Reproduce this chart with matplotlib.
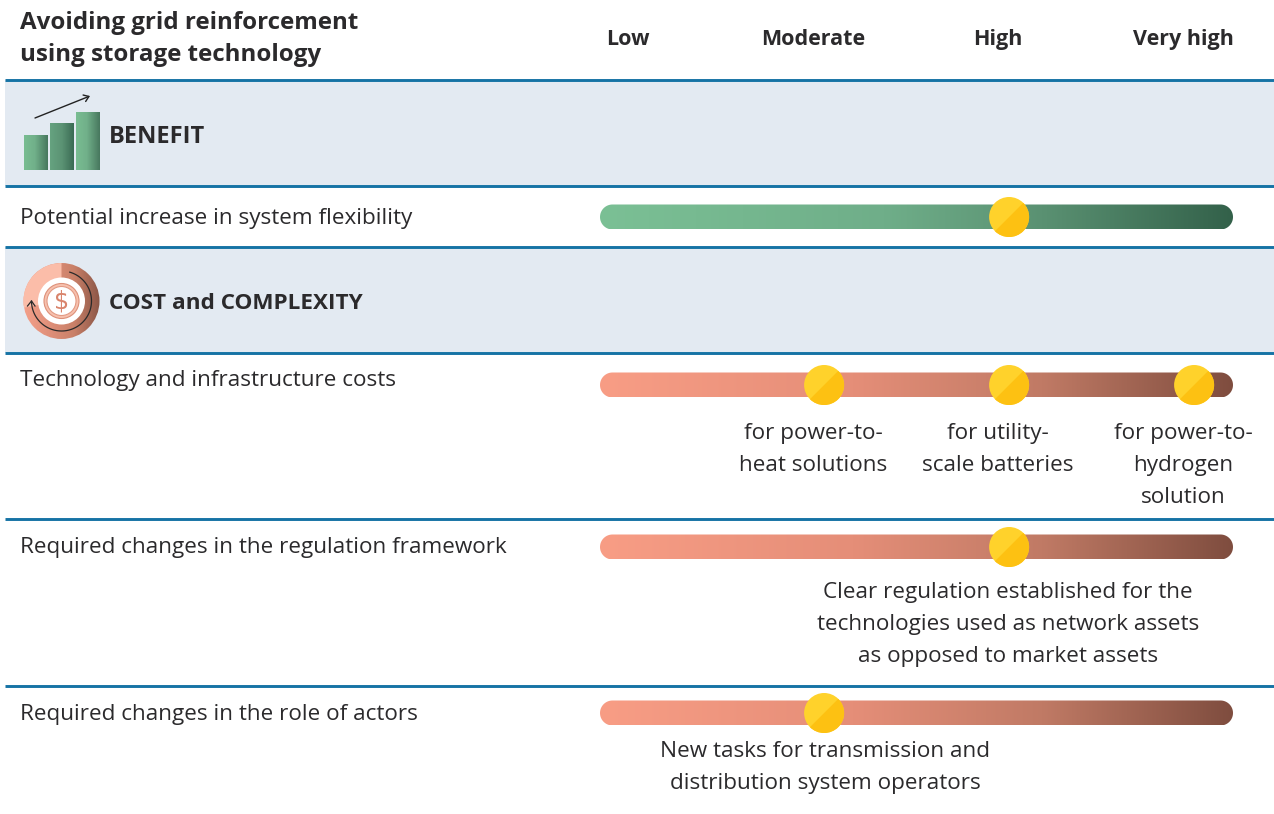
import numpy as np
from matplotlib import pyplot as plt
from matplotlib.colors import LinearSegmentedColormap
from matplotlib.patches import Circle, Polygon, Rectangle, Wedge, FancyArrowPatch

plt.rcParams["font.family"] = ["Open Sans", "DejaVu Sans"]

### data
title_lines = ["Avoiding grid reinforcement", "using storage technology"]
levels = ["Low", "Moderate", "High", "Very high"]
sections = ["BENEFIT", "COST and COMPLEXITY"]
row_names = [
    "Potential increase in system flexibility",
    "Technology and infrastructure costs",
    "Required changes in the regulation framework",
    "Required changes in the role of actors",
]
# ratings on the scale 0 = Low ... 3 = Very high
row_ratings = [[2.06], [1.06, 2.06, 3.06], [2.06], [1.06]]
cost_notes = [
    ["for power-to-", "heat solutions"],
    ["for utility-", "scale batteries"],
    ["for power-to-", "hydrogen", "solution"],
]
regulation_note = [
    "Clear regulation established for the",
    "technologies used as network assets",
    "as opposed to market assets",
]
actors_note = ["New tasks for transmission and", "distribution system operators"]

LINE = "#1573a5"
BAND = "#e3eaf2"
TEXT = "#2b2a2c"
BODY_SIZE = 16.2
LINE_STEP = 32


def level_x(v):
    # pixel position of a rating
    return 628 + 185 * v


def note(x, y, lines):
    for n, s in enumerate(lines):
        ax.text(x, y + n * LINE_STEP, s, fontsize=BODY_SIZE, color=TEXT, va="baseline", ha="center")


def pill(x0, x1, y, r):
    # outline of a bar with fully round ends
    t = np.radians(np.linspace(90, 270, 40))
    left = np.column_stack([x0 + r + r * np.cos(t), y + r * np.sin(t)])
    right = np.column_stack([x1 - r - r * np.cos(t), y - r * np.sin(t)])
    return Polygon(np.vstack([left, right]), closed=True, fc="none", ec="none")


green = LinearSegmentedColormap.from_list("g", [(0, "#7bc095"), (0.45, "#6fae89"), (0.7, "#5a9172"), (1, "#33614a")])
salmon = LinearSegmentedColormap.from_list("s", [(0, "#f89d85"), (0.4, "#e58e78"), (0.7, "#c07a65"), (1, "#7f4d3f")])
bar_green = LinearSegmentedColormap.from_list("bg", [(0, "#79bd92"), (0.45, "#71b08a"), (1, "#47775e")])
bar_mid = LinearSegmentedColormap.from_list("bm", [(0, "#66a380"), (0.5, "#5b9374"), (1, "#3a6b54")])
coin = LinearSegmentedColormap.from_list("c", ["#f4a08a", "#e0907a", "#c98068", "#8a5546"])
ramp = np.linspace(0, 1, 256).reshape(1, -1)

fig = plt.figure(figsize=(12.74, 8.14), dpi=100)
ax = fig.add_axes([0, 0, 1, 1])
ax.set_xlim(0, 1274)
ax.set_ylim(814, 0)
ax.axis("off")

# bands and rules
for y0, y1 in [(80, 186), (247, 353)]:
    ax.add_patch(Rectangle((5, y0), 1269, y1 - y0, fc=BAND, ec="none", zorder=0))
for y in [80, 186, 247, 353, 519, 686]:
    ax.plot([5, 1274], [y, y], color=LINE, lw=2.1, solid_capstyle="butt", zorder=1)

# header
for y, s in zip([29, 61], title_lines):
    ax.text(20, y, s, fontsize=17.4, fontweight="bold", color=TEXT, va="baseline", ha="left")
for i, s in enumerate(levels):
    ax.text(level_x(i), 45, s, fontsize=15.5, fontweight="bold", color=TEXT, va="baseline", ha="center")

# section titles
ax.text(109, 143, sections[0], fontsize=17, fontweight="bold", color=TEXT, va="baseline")
ax.text(109, 309, sections[1], fontsize=16.2, fontweight="bold", color=TEXT, va="baseline")

# benefit icon
for x, top, cm in [(24, 135, bar_green), (50, 123, bar_mid), (76, 112, bar_green)]:
    ax.imshow(ramp, extent=[x, x + 24, 170, top], cmap=cm, aspect="auto", interpolation="nearest", zorder=2)
ax.add_patch(FancyArrowPatch((35, 118), (90, 96), arrowstyle="->,head_length=3.5,head_width=2.5", lw=1.0,
                             color="#222222", shrinkA=0, shrinkB=0, zorder=3))

# cost icon
cx, cy = 61.5, 301
icon = ax.imshow(ramp, extent=[23, 100, 339, 263], cmap=coin, aspect="auto", interpolation="nearest", zorder=2)
icon.set_clip_path(Circle((cx, cy), 38, transform=ax.transData))
ax.add_patch(Wedge((cx, cy), 38, 170, 270, fc="#fbbda9", ec="none", zorder=3))
ax.add_patch(Circle((cx, cy), 23.5, fc="white", ec="none", zorder=4))
ax.add_patch(Circle((cx, cy), 17.5, fc="#f7c1ae", ec="#dd9079", lw=0.8, zorder=5))
ax.add_patch(Circle((cx, cy), 14.5, fc="white", ec="#e29a84", lw=0.8, zorder=5))
ax.text(cx, cy, "$", fontsize=17, color="#d9846c", ha="center", va="center", family="DejaVu Sans", zorder=6)
a = np.radians(np.linspace(-74, 180, 80))
ax.plot(cx + 30 * np.cos(a), cy + 30 * np.sin(a), color="#2a2a2a", lw=0.9, zorder=6)
ax.plot([27.5, 31.5, 35], [306, 301, 306], color="#2a2a2a", lw=0.9, zorder=6)

# rows
row_y = [217, 385, 547, 713]
label_y = [224, 386, 553, 720]
row_cmaps = [green, salmon, salmon, salmon]
for name, ratings, y, ly, cm in zip(row_names, row_ratings, row_y, label_y, row_cmaps):
    ax.text(20, ly, name, fontsize=BODY_SIZE, color=TEXT, va="baseline", ha="left")
    im = ax.imshow(ramp, extent=[600, 1233, y + 12.5, y - 12.5], cmap=cm, aspect="auto", zorder=2)
    clip = pill(600, 1233, y, 12.5)
    ax.add_patch(clip)
    im.set_clip_path(clip)
    for r in ratings:
        mx = level_x(r)
        ax.add_patch(Circle((mx, y), 20, fc="#ffd22b", ec="none", zorder=5))
        ax.add_patch(Wedge((mx, y), 20, -45, 135, fc="#fdc112", ec="none", zorder=6))

# notes
for i, lines in enumerate(cost_notes):
    note(level_x(i + 1), 439, lines)
note(1008, 598, regulation_note)
note(825, 757, actors_note)

ax.set_xlim(0, 1274)
ax.set_ylim(814, 0)
plt.savefig("out.png", dpi=100)
